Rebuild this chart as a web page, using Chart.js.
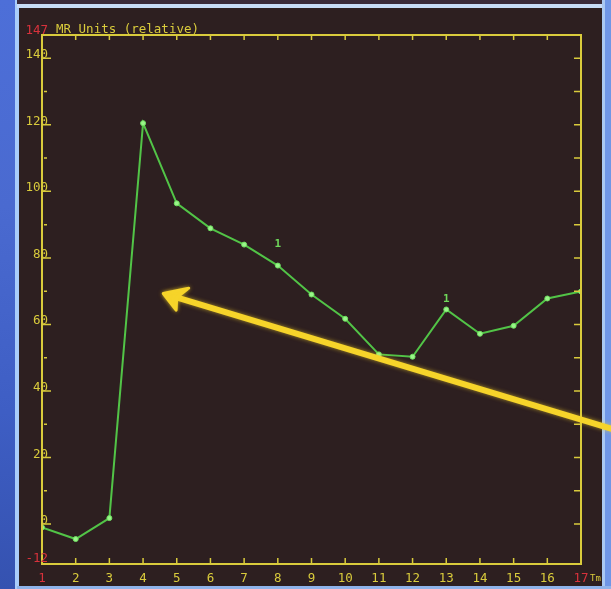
<!DOCTYPE html>
<html>
<head>
<meta charset="utf-8">
<script src="https://cdn.jsdelivr.net/npm/chart.js@4/dist/chart.umd.min.js"></script>
<style>
html,body{margin:0;padding:0;background:#2d1f20;}
canvas{display:block;}
</style>
</head>
<body>
<canvas id="c" width="611" height="589"></canvas>
<script>
// ---- data ----
const xValues = [1,2,3,4,5,6,7,8,9,10,11,12,13,14,15,16,17];
const mrUnits = [-1,-4.5,1.8,120.5,96.4,88.9,84,77.7,69,61.7,51,50.3,64.5,57.2,59.6,67.8,69.9];
const xTickValues = [1,2,3,4,5,6,7,8,9,10,11,12,13,14,15,16,17];
const yTickValues = [-12,0,20,40,60,80,100,120,140,147];
const yMinorTicks = [10,30,50,70,90,110,130];
const yMin = -12, yMax = 147;
const markerX = [8,13];
const markerY = [84,67.5];
const markerText = ['1','1'];
const arrowFrom = {x:17.93, y:28.6};
const arrowTo = {x:4.6, y:69.3};
const axisTitle = 'MR Units (relative)';
const xUnit = 'Tm';

const YEL = '#d9cb3c';
const RED = '#d8323c';
const FONT = '"DejaVu Sans Mono", monospace';

const framePlugin = {
  id:'frame',
  beforeDraw(chart){
    const ctx = chart.ctx, W = chart.width, H = chart.height;
    ctx.save();
    ctx.fillStyle = '#2d1f20';
    ctx.fillRect(0,0,W,H);
    const g = ctx.createLinearGradient(0,0,0,H);
    g.addColorStop(0,'#4d6fd8'); g.addColorStop(0.35,'#4a6ad0');
    g.addColorStop(0.7,'#3e5ec4'); g.addColorStop(1,'#3552b0');
    ctx.fillStyle = g;
    ctx.fillRect(0,0,17,H);
    ctx.fillStyle = '#a9cdfb';
    ctx.fillRect(15,0,4,H);
    ctx.fillStyle = '#3a2b3a';
    ctx.fillRect(17,0,W,4);
    ctx.fillStyle = '#c7dcf7';
    ctx.fillRect(17,4,W,4);
    ctx.fillStyle = '#6f96e6';
    ctx.fillRect(603,0,W-603,H);
    ctx.fillStyle = '#a9c8f2';
    ctx.fillRect(602,0,3,H);
    ctx.fillStyle = '#8fb3ea';
    ctx.fillRect(17,586,W,3);
    ctx.restore();
  },
  afterDatasetsDraw(chart){
    const ctx = chart.ctx, xs = chart.scales.x, ys = chart.scales.y;
    const a = chart.chartArea;
    ctx.save();
    ctx.strokeStyle = YEL; ctx.lineWidth = 2;
    ctx.strokeRect(a.left, a.top, a.right-a.left, a.bottom-a.top);
    ctx.lineWidth = 1.5;
    ctx.beginPath();
    xTickValues.forEach(v=>{
      const px = xs.getPixelForValue(v);
      ctx.moveTo(px, a.bottom); ctx.lineTo(px, a.bottom-6);
      ctx.moveTo(px, a.top); ctx.lineTo(px, a.top+5);
    });
    yTickValues.forEach(v=>{
      if (v===yMin || v===yMax) return;
      const py = ys.getPixelForValue(v);
      ctx.moveTo(a.left, py); ctx.lineTo(a.left+9, py);
      ctx.moveTo(a.right, py); ctx.lineTo(a.right-7, py);
    });
    yMinorTicks.forEach(v=>{
      const py = ys.getPixelForValue(v);
      ctx.moveTo(a.left+2, py); ctx.lineTo(a.left+5, py);
      ctx.moveTo(a.right, py); ctx.lineTo(a.right-7, py);
    });
    ctx.stroke();
    // y tick labels
    ctx.font = '12.5px ' + FONT;
    ctx.textAlign = 'right'; ctx.textBaseline = 'alphabetic';
    yTickValues.forEach(v=>{
      const py = ys.getPixelForValue(v);
      ctx.fillStyle = (v===yMin || v===yMax) ? RED : YEL;
      let by = py;
      if (v===yMax) by = py - 1;
      if (v===yMin) by = py - 2;
      ctx.fillText(String(v), a.left + 6, by);
    });
    // axis title and unit
    ctx.fillStyle = YEL;
    ctx.textAlign = 'left';
    ctx.fillText(axisTitle, a.left+14, a.top-2);
    ctx.font = '9px ' + FONT;
    ctx.fillText(xUnit, a.right+9, a.bottom+17);
    // "1" markers
    ctx.fillStyle = '#6fd85a';
    ctx.font = 'bold 11px ' + FONT;
    ctx.textAlign = 'center'; ctx.textBaseline = 'middle';
    markerX.forEach((mx,i)=>{
      ctx.fillText(markerText[i], xs.getPixelForValue(mx), ys.getPixelForValue(markerY[i]));
    });
    // yellow arrow overlay
    const x0 = xs.getPixelForValue(arrowFrom.x), y0 = ys.getPixelForValue(arrowFrom.y);
    const x1 = xs.getPixelForValue(arrowTo.x), y1 = ys.getPixelForValue(arrowTo.y);
    const ang = Math.atan2(y0-y1, x0-x1);
    ctx.strokeStyle = '#f6d42a'; ctx.fillStyle = '#f6d42a';
    ctx.shadowColor = 'rgba(246,212,42,0.6)'; ctx.shadowBlur = 4;
    ctx.lineWidth = 6; ctx.lineCap = 'round';
    ctx.beginPath();
    ctx.moveTo(x0,y0); ctx.lineTo(x1+Math.cos(ang)*6, y1+Math.sin(ang)*6);
    ctx.stroke();
    ctx.beginPath();
    ctx.moveTo(x1,y1);
    ctx.lineTo(x1+Math.cos(ang-0.5)*26, y1+Math.sin(ang-0.5)*26);
    ctx.lineTo(x1+Math.cos(ang)*14, y1+Math.sin(ang)*14);
    ctx.lineTo(x1+Math.cos(ang+0.62)*21, y1+Math.sin(ang+0.62)*21);
    ctx.closePath();
    ctx.lineWidth = 3; ctx.lineJoin = 'round';
    ctx.fill(); ctx.stroke();
    ctx.restore();
  }
};

new Chart(document.getElementById('c'), {
  type:'line',
  data:{
    datasets:[{
      data: xValues.map((x,i)=>({x:x, y:mrUnits[i]})),
      borderColor:'#52c447',
      borderWidth:2,
      pointRadius:2.5,
      pointBackgroundColor:'#9af58a',
      pointBorderColor:'#6fe060',
      pointBorderWidth:1,
      tension:0
    }]
  },
  options:{
    responsive:false,
    animation:false,
    events:[],
    layout:{padding:{top:35,right:30,left:0,bottom:0}},
    plugins:{legend:{display:false}, tooltip:{enabled:false}},
    scales:{
      x:{
        type:'linear', min:1, max:17,
        afterBuildTicks(s){ s.ticks = xTickValues.map(v=>({value:v})); },
        afterFit(s){ s.height = 25; },
        grid:{display:false, drawTicks:false},
        border:{display:false},
        ticks:{
          padding:7,
          autoSkip:false, maxRotation:0,
          font:{family:FONT, size:12.5},
          color:(c)=> (c.tick && (c.tick.value===1 || c.tick.value===17)) ? RED : YEL,
          callback:(v)=> String(v)
        }
      },
      y:{
        min:yMin, max:yMax,
        afterBuildTicks(s){ s.ticks = yTickValues.map(v=>({value:v})); },
        afterFit(s){ s.width = 42; },
        grid:{display:false, drawTicks:false},
        border:{display:false},
        ticks:{ display:false }
      }
    }
  },
  plugins:[framePlugin]
});
</script>
</body>
</html>
